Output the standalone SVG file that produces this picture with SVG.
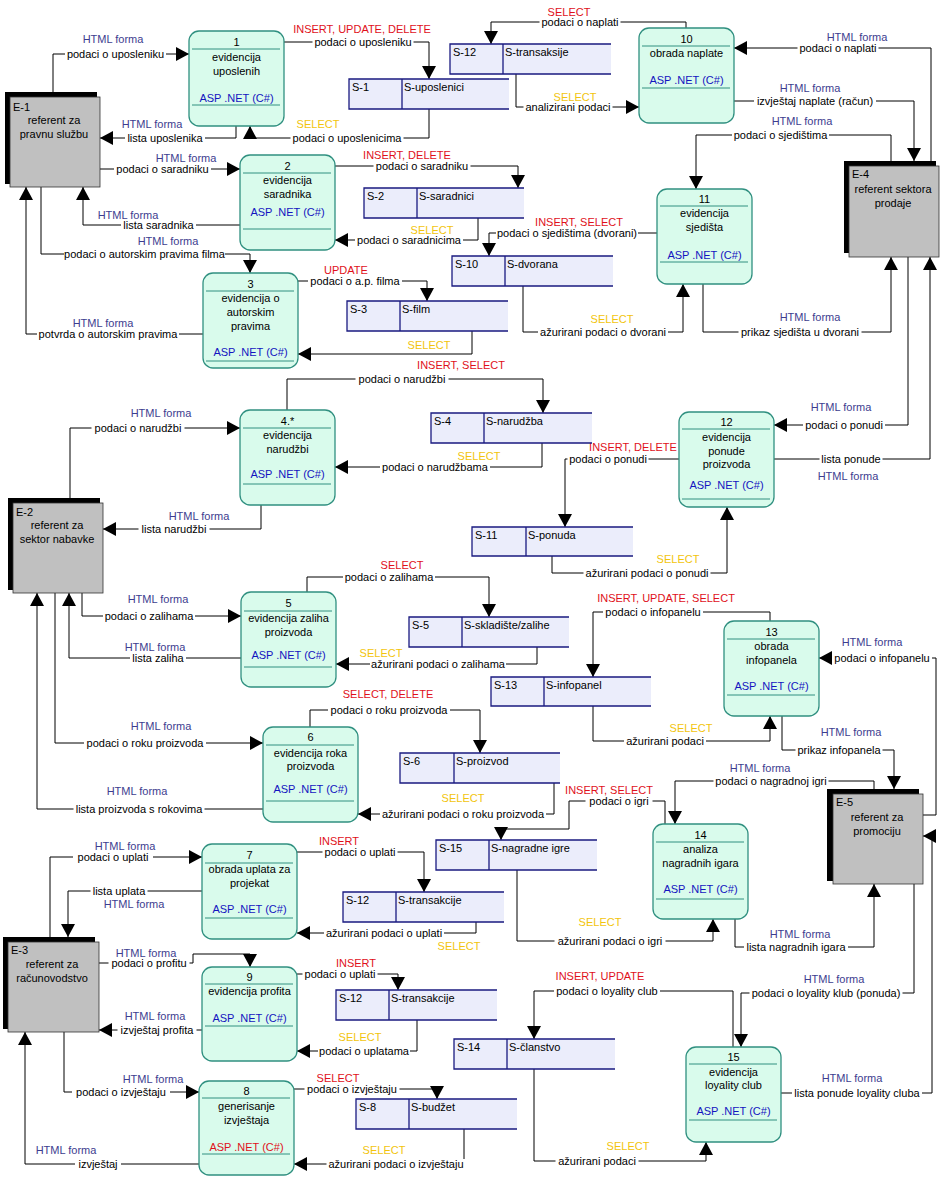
<svg xmlns="http://www.w3.org/2000/svg" width="942" height="1202" viewBox="0 0 942 1202">
<defs>
  <marker id="ah" markerUnits="userSpaceOnUse" markerWidth="14" markerHeight="15" refX="13" refY="7" orient="auto" overflow="visible">
    <path d="M0,0 L13,7 L0,14 Z" fill="#000"/>
  </marker>
</defs>
<style>
  text { font-family: "Liberation Sans", Arial, sans-serif; font-size: 11px; fill: #000; }
  .c { text-anchor: middle; }
  .p rect { fill: #d9fbec; stroke: #309080; stroke-width: 1.3; }
  .p line { stroke: #309080; stroke-width: 1; }
  .asp { fill: #1414c0; }
  .aspr { fill: #e0101a; }
  .s rect { fill: #ebedfb; stroke: none; }
  .s path { fill: none; stroke: #1a1a80; stroke-width: 1.3; }
  .e .sh { fill: #000; }
  .e .bx { fill: #c0c0c0; stroke: #333; stroke-width: 0.8; }
  #conn path { fill: none; stroke: #000; stroke-width: 1; }
  #conn path.a { marker-end: url(#ah); }
  #gaps rect { fill: #fff; }
  .lb { text-anchor: middle; }
  .h { text-anchor: middle; fill: #3d3d8f; }
  .r { text-anchor: middle; fill: #e0101a; }
  .y { text-anchor: middle; fill: #f2c40c; }
</style>
<rect x="0" y="0" width="942" height="1202" fill="#fff"/>

<!-- data flows -->
<g id="conn">
  <path class="a" d="M53,92 V54 H189"/>
  <path class="a" d="M236,126 V138 H100"/>
  <path class="a" d="M284,42 H429 V79"/>
  <path class="a" d="M429,109 V138 H250 V126"/>
  <path class="a" d="M100,169 H240"/>
  <path class="a" d="M240,225 H83 V187"/>
  <path class="a" d="M41,187 V254 H250 V273"/>
  <path class="a" d="M203,334 H26 V187"/>
  <path class="a" d="M335,166 H518 V188"/>
  <path class="a" d="M478,218 V240 H335"/>
  <path class="a" d="M298,281 H427 V301"/>
  <path class="a" d="M472,331 V354 H298"/>
  <path class="a" d="M657,233 H489 V256"/>
  <path class="a" d="M523,286 V332 H683 V284"/>
  <path class="a" d="M891,161 V135 H696 V189"/>
  <path class="a" d="M703,284 V332 H891 V257"/>
  <path class="a" d="M931,161 V48 H734"/>
  <path class="a" d="M734,101 H914 V161"/>
  <path class="a" d="M516,74 V107 H639"/>
  <path class="a" d="M686,28 V22 H491 V44"/>
  <path class="a" d="M287,410 V379 H543 V413"/>
  <path class="a" d="M542,443 V467 H335"/>
  <path class="a" d="M70,498 V428 H240"/>
  <path class="a" d="M261,505 V529 H103"/>
  <path class="a" d="M679,459 H565 V527"/>
  <path class="a" d="M552,556 V573 H727 V507"/>
  <path class="a" d="M908,257 V425 H774"/>
  <path class="a" d="M774,459 H930 V257"/>
  <path class="a" d="M307,592 V577 H489 V617"/>
  <path class="a" d="M537,647 V664 H336"/>
  <path class="a" d="M82,593 V616 H241"/>
  <path class="a" d="M241,658 H69 V593"/>
  <path class="a" d="M310,727 V710 H480 V753"/>
  <path class="a" d="M554,783 V814 H358"/>
  <path class="a" d="M55,593 V743 H263"/>
  <path class="a" d="M263,809 H37 V593"/>
  <path class="a" d="M770,621 V612 H593 V677"/>
  <path class="a" d="M593,706 V741 H770 V716"/>
  <path class="a" d="M923,815 H936 V658 H819"/>
  <path class="a" d="M782,716 V750 H894 V789"/>
  <path class="a" d="M874,789 V781 H675 V824"/>
  <path class="a" d="M665,824 V801 H569 V829 H501 V840"/>
  <path class="a" d="M517,870 V941 H713 V919"/>
  <path class="a" d="M735,919 V947 H874 V884"/>
  <path class="a" d="M914,884 V993 H741 V1047"/>
  <path class="a" d="M781,1093 H932 V836 H923"/>
  <path class="a" d="M733,1047 V991 H534 V1039"/>
  <path class="a" d="M534,1069 V1161 H706 V1142"/>
  <path class="a" d="M50,937 V857 H202"/>
  <path class="a" d="M202,891 H68 V937"/>
  <path class="a" d="M297,852 H424 V892"/>
  <path class="a" d="M476,922 V933 H297"/>
  <path class="a" d="M99,963 H193 V954 H250 V967"/>
  <path class="a" d="M202,1030 H99"/>
  <path class="a" d="M297,974 H398 V990"/>
  <path class="a" d="M417,1020 V1051 H297"/>
  <path class="a" d="M64,1032 V1092 H199"/>
  <path class="a" d="M199,1164 H25 V1032"/>
  <path class="a" d="M294,1089 H437 V1099"/>
  <path class="a" d="M464,1129 V1164 H294"/>
</g>

<!-- white breaks in the flow lines under their names -->
<g id="gaps">
  <rect x="65" y="49" width="101" height="11"/>
  <rect x="125" y="133" width="80" height="11"/>
  <rect x="312.5" y="37" width="101" height="11"/>
  <rect x="290.5" y="133" width="113" height="11"/>
  <rect x="114" y="164" width="97" height="11"/>
  <rect x="121" y="220" width="75" height="11"/>
  <rect x="64" y="249" width="161" height="11"/>
  <rect x="37" y="329" width="142" height="11"/>
  <rect x="373.5" y="161" width="97" height="11"/>
  <rect x="355" y="235" width="108" height="11"/>
  <rect x="308" y="276" width="94" height="11"/>
  <rect x="496" y="228" width="142" height="11"/>
  <rect x="538" y="327" width="130" height="11"/>
  <rect x="732" y="130" width="97" height="11"/>
  <rect x="738.5" y="327" width="123" height="11"/>
  <rect x="797.5" y="43" width="81" height="11"/>
  <rect x="754" y="96" width="122" height="11"/>
  <rect x="523.5" y="102" width="89" height="11"/>
  <rect x="539.5" y="17" width="81" height="11"/>
  <rect x="355.5" y="374" width="93" height="11"/>
  <rect x="380" y="462" width="110" height="11"/>
  <rect x="91.5" y="423" width="93" height="11"/>
  <rect x="138.5" y="524" width="71" height="11"/>
  <rect x="567.5" y="454" width="81" height="11"/>
  <rect x="583.5" y="568" width="127" height="11"/>
  <rect x="803" y="420" width="82" height="11"/>
  <rect x="819.5" y="454" width="63" height="11"/>
  <rect x="343" y="572" width="92" height="11"/>
  <rect x="370" y="659" width="136" height="11"/>
  <rect x="103" y="611" width="92" height="11"/>
  <rect x="130" y="653" width="56" height="11"/>
  <rect x="328" y="705" width="122" height="11"/>
  <rect x="380" y="809" width="166" height="11"/>
  <rect x="84" y="738" width="122" height="11"/>
  <rect x="73.5" y="804" width="131" height="11"/>
  <rect x="603" y="607" width="100" height="11"/>
  <rect x="624" y="736" width="82" height="11"/>
  <rect x="832" y="653" width="100" height="11"/>
  <rect x="795.5" y="745" width="87" height="11"/>
  <rect x="713.5" y="776" width="115" height="11"/>
  <rect x="585.5" y="796" width="67" height="11"/>
  <rect x="554.5" y="936" width="111" height="11"/>
  <rect x="744" y="942" width="104" height="11"/>
  <rect x="749.5" y="988" width="153" height="11"/>
  <rect x="792" y="1088" width="130" height="11"/>
  <rect x="554" y="986" width="106" height="11"/>
  <rect x="555.5" y="1156" width="83" height="11"/>
  <rect x="73" y="852" width="80" height="11"/>
  <rect x="90.5" y="886" width="57" height="11"/>
  <rect x="322.5" y="847" width="75" height="11"/>
  <rect x="324" y="928" width="120" height="11"/>
  <rect x="108.5" y="958" width="81" height="11"/>
  <rect x="117.5" y="1025" width="79" height="11"/>
  <rect x="302.5" y="969" width="75" height="11"/>
  <rect x="318" y="1046" width="92" height="11"/>
  <rect x="72" y="1087" width="98" height="11"/>
  <rect x="75" y="1159" width="46" height="11"/>
  <rect x="304.5" y="1084" width="95" height="11"/>
  <rect x="326.5" y="1159" width="139" height="11"/>
</g>

<!-- flow labels -->
<g id="labels">
  <text class="h" x="113" y="43">HTML forma</text>
  <text class="lb" x="115.5" y="58">podaci o uposleniku</text>
  <text class="h" x="152" y="128">HTML forma</text>
  <text class="lb" x="165" y="142">lista uposlenika</text>
  <text class="r" x="362" y="33">INSERT, UPDATE, DELETE</text>
  <text class="lb" x="363" y="46">podaci o uposleniku</text>
  <text class="y" x="318" y="128">SELECT</text>
  <text class="lb" x="347" y="142">podaci o uposlenicima</text>
  <text class="h" x="186" y="162">HTML forma</text>
  <text class="lb" x="162.5" y="173">podaci o saradniku</text>
  <text class="h" x="128" y="219">HTML forma</text>
  <text class="lb" x="158.5" y="229">lista saradnika</text>
  <text class="h" x="168" y="245">HTML forma</text>
  <text class="lb" x="144.5" y="258">podaci o autorskim pravima filma</text>
  <text class="h" x="103" y="327">HTML forma</text>
  <text class="lb" x="108" y="338">potvrda o autorskim pravima</text>
  <text class="r" x="407" y="159">INSERT, DELETE</text>
  <text class="lb" x="422" y="170">podaci o saradniku</text>
  <text class="y" x="432" y="234">SELECT</text>
  <text class="lb" x="409" y="244">podaci o saradnicima</text>
  <text class="r" x="346" y="274">UPDATE</text>
  <text class="lb" x="355" y="285">podaci o a.p. filma</text>
  <text class="y" x="429" y="349">SELECT</text>
  <text class="r" x="579" y="226">INSERT, SELECT</text>
  <text class="lb" x="567" y="237">podaci o sjedištima (dvorani)</text>
  <text class="y" x="612" y="323">SELECT</text>
  <text class="lb" x="603" y="336">ažurirani podaci o dvorani</text>
  <text class="h" x="802" y="125">HTML forma</text>
  <text class="lb" x="780.5" y="139">podaci o sjedištima</text>
  <text class="h" x="810" y="321">HTML forma</text>
  <text class="lb" x="800" y="336">prikaz sjedišta u dvorani</text>
  <text class="h" x="857" y="41">HTML forma</text>
  <text class="lb" x="838" y="52">podaci o naplati</text>
  <text class="h" x="810" y="92">HTML forma</text>
  <text class="lb" x="815" y="105">izvještaj naplate (račun)</text>
  <text class="y" x="575" y="101">SELECT</text>
  <text class="lb" x="568" y="111">analizirani podaci</text>
  <text class="r" x="569" y="16">SELECT</text>
  <text class="lb" x="580" y="26">podaci o naplati</text>
  <text class="r" x="461" y="369">INSERT, SELECT</text>
  <text class="lb" x="402" y="383">podaci o narudžbi</text>
  <text class="y" x="479" y="460">SELECT</text>
  <text class="lb" x="435" y="471">podaci o narudžbama</text>
  <text class="h" x="161" y="417">HTML forma</text>
  <text class="lb" x="138" y="432">podaci o narudžbi</text>
  <text class="h" x="199" y="520">HTML forma</text>
  <text class="lb" x="174" y="533">lista narudžbi</text>
  <text class="r" x="633" y="451">INSERT, DELETE</text>
  <text class="lb" x="608" y="463">podaci o ponudi</text>
  <text class="y" x="678" y="563">SELECT</text>
  <text class="lb" x="647" y="577">ažurirani podaci o ponudi</text>
  <text class="h" x="841" y="411">HTML forma</text>
  <text class="lb" x="844" y="429">podaci o ponudi</text>
  <text class="lb" x="851" y="463">lista ponude</text>
  <text class="h" x="848" y="480">HTML forma</text>
  <text class="r" x="402" y="569">SELECT</text>
  <text class="lb" x="389" y="581">podaci o zalihama</text>
  <text class="y" x="381" y="657">SELECT</text>
  <text class="lb" x="438" y="668">ažurirani podaci o zalihama</text>
  <text class="h" x="158" y="603">HTML forma</text>
  <text class="lb" x="149" y="620">podaci o zalihama</text>
  <text class="h" x="155" y="651">HTML forma</text>
  <text class="lb" x="158" y="662">lista zaliha</text>
  <text class="r" x="388" y="698">SELECT, DELETE</text>
  <text class="lb" x="389" y="714">podaci o roku proizvoda</text>
  <text class="y" x="463" y="802">SELECT</text>
  <text class="lb" x="463" y="818">ažurirani podaci o roku proizvoda</text>
  <text class="h" x="161" y="730">HTML forma</text>
  <text class="lb" x="145" y="747">podaci o roku proizvoda</text>
  <text class="h" x="137" y="795">HTML forma</text>
  <text class="lb" x="139" y="813">lista proizvoda s rokovima</text>
  <text class="r" x="666" y="602">INSERT, UPDATE, SELECT</text>
  <text class="lb" x="653" y="616">podaci o infopanelu</text>
  <text class="y" x="691" y="732">SELECT</text>
  <text class="lb" x="665" y="745">ažurirani podaci</text>
  <text class="h" x="872" y="646">HTML forma</text>
  <text class="lb" x="882" y="662">podaci o infopanelu</text>
  <text class="h" x="851" y="736">HTML forma</text>
  <text class="lb" x="839" y="754">prikaz infopanela</text>
  <text class="h" x="760" y="772">HTML forma</text>
  <text class="lb" x="771" y="785">podaci o nagradnoj igri</text>
  <text class="r" x="609" y="794">INSERT, SELECT</text>
  <text class="lb" x="619" y="805">podaci o igri</text>
  <text class="y" x="600" y="926">SELECT</text>
  <text class="lb" x="610" y="945">ažurirani podaci o igri</text>
  <text class="h" x="800" y="938">HTML forma</text>
  <text class="lb" x="796" y="951">lista nagradnih igara</text>
  <text class="h" x="834" y="983">HTML forma</text>
  <text class="lb" x="826" y="997">podaci o loyality klub (ponuda)</text>
  <text class="h" x="852" y="1082">HTML forma</text>
  <text class="lb" x="857" y="1097">lista ponude loyality cluba</text>
  <text class="r" x="600" y="980">INSERT, UPDATE</text>
  <text class="lb" x="607" y="995">podaci o loyality club</text>
  <text class="y" x="628" y="1150">SELECT</text>
  <text class="lb" x="597" y="1165">ažurirani podaci</text>
  <text class="h" x="125" y="850">HTML forma</text>
  <text class="lb" x="113" y="861">podaci o uplati</text>
  <text class="lb" x="119" y="895">lista uplata</text>
  <text class="h" x="134" y="908">HTML forma</text>
  <text class="r" x="339" y="845">INSERT</text>
  <text class="lb" x="360" y="856">podaci o uplati</text>
  <text class="y" x="459" y="950">SELECT</text>
  <text class="lb" x="384" y="937">ažurirani podaci o uplati</text>
  <text class="h" x="146" y="957">HTML forma</text>
  <text class="lb" x="149" y="967">podaci o profitu</text>
  <text class="h" x="155" y="1020">HTML forma</text>
  <text class="lb" x="157" y="1034">izvještaj profita</text>
  <text class="r" x="356" y="967">INSERT</text>
  <text class="lb" x="340" y="978">podaci o uplati</text>
  <text class="y" x="360" y="1041">SELECT</text>
  <text class="lb" x="364" y="1055">podaci o uplatama</text>
  <text class="h" x="153" y="1083">HTML forma</text>
  <text class="lb" x="121" y="1096">podaci o izvještaju</text>
  <text class="h" x="66" y="1154">HTML forma</text>
  <text class="lb" x="98" y="1168">izvještaj</text>
  <text class="r" x="338" y="1082">SELECT</text>
  <text class="lb" x="352" y="1093">podaci o izvještaju</text>
  <text class="y" x="384" y="1154">SELECT</text>
  <text class="lb" x="396" y="1168">ažurirani podaci o izvještaju</text>
</g>

<!-- external entities -->
<g id="e1" class="e">
  <rect class="sh" x="5" y="92" width="92" height="92"/>
  <rect class="bx" x="10" y="97" width="90" height="90"/>
  <text x="13" y="111">E-1</text>
  <text class="c" x="54" y="124">referent za</text>
  <text class="c" x="54" y="138">pravnu službu</text>
</g>
<g id="e2" class="e">
  <rect class="sh" x="8" y="498" width="92" height="92"/>
  <rect class="bx" x="13" y="503" width="90" height="90"/>
  <text x="16" y="516">E-2</text>
  <text class="c" x="57" y="529">referent za</text>
  <text class="c" x="57" y="543">sektor nabavke</text>
</g>
<g id="e3" class="e">
  <rect class="sh" x="3" y="937" width="92" height="92"/>
  <rect class="bx" x="8" y="942" width="91" height="90"/>
  <text x="11" y="954">E-3</text>
  <text class="c" x="52" y="968">referent za</text>
  <text class="c" x="52" y="982">računovodstvo</text>
</g>
<g id="e4" class="e">
  <rect class="sh" x="844" y="161" width="92" height="92"/>
  <rect class="bx" x="849" y="166" width="90" height="91"/>
  <text x="852" y="178">E-4</text>
  <text class="c" x="893" y="193">referent sektora</text>
  <text class="c" x="893" y="207">prodaje</text>
</g>
<g id="e5" class="e">
  <rect class="sh" x="827" y="789" width="92" height="92"/>
  <rect class="bx" x="833" y="794" width="90" height="90"/>
  <text x="836" y="806">E-5</text>
  <text class="c" x="877" y="821">referent za</text>
  <text class="c" x="877" y="835">promociju</text>
</g>

<!-- processes -->
<g id="p1" class="p">
  <rect x="189" y="31" width="95" height="95" rx="10"/>
  <line x1="192" y1="49" x2="280" y2="49"/><line x1="192" y1="105" x2="280" y2="105"/>
  <text class="c" x="236.5" y="46">1</text>
  <text class="c" x="236.5" y="61">evidencija</text>
  <text class="c" x="236.5" y="75">uposlenih</text>
  <text class="c asp" x="236.5" y="102">ASP .NET (C#)</text>
</g>
<g id="p2" class="p">
  <rect x="240" y="155" width="95" height="95" rx="10"/>
  <line x1="243" y1="173" x2="331" y2="173"/><line x1="243" y1="229" x2="331" y2="229"/>
  <text class="c" x="287.5" y="170">2</text>
  <text class="c" x="287.5" y="184">evidencija</text>
  <text class="c" x="287.5" y="198">saradnika</text>
  <text class="c asp" x="287.5" y="216">ASP .NET (C#)</text>
</g>
<g id="p3" class="p">
  <rect x="203" y="273" width="95" height="95" rx="10"/>
  <line x1="206" y1="291" x2="294" y2="291"/><line x1="206" y1="361" x2="294" y2="361"/>
  <text class="c" x="250.5" y="288">3</text>
  <text class="c" x="250.5" y="302">evidencija o</text>
  <text class="c" x="250.5" y="316">autorskim</text>
  <text class="c" x="250.5" y="330">pravima</text>
  <text class="c asp" x="250.5" y="356">ASP .NET (C#)</text>
</g>
<g id="p4" class="p">
  <rect x="240" y="410" width="95" height="95" rx="10"/>
  <line x1="243" y1="428" x2="331" y2="428"/><line x1="243" y1="484" x2="331" y2="484"/>
  <text class="c" x="287.5" y="425">4.*</text>
  <text class="c" x="287.5" y="439">evidencija</text>
  <text class="c" x="287.5" y="453">narudžbi</text>
  <text class="c asp" x="287.5" y="478">ASP .NET (C#)</text>
</g>
<g id="p5" class="p">
  <rect x="241" y="592" width="95" height="95" rx="10"/>
  <line x1="244" y1="611" x2="332" y2="611"/><line x1="244" y1="667" x2="332" y2="667"/>
  <text class="c" x="288.5" y="607">5</text>
  <text class="c" x="288.5" y="622">evidencija zaliha</text>
  <text class="c" x="288.5" y="636">proizvoda</text>
  <text class="c asp" x="288.5" y="659">ASP .NET (C#)</text>
</g>
<g id="p6" class="p">
  <rect x="263" y="727" width="95" height="95" rx="10"/>
  <line x1="266" y1="745" x2="354" y2="745"/><line x1="266" y1="801" x2="354" y2="801"/>
  <text class="c" x="310.5" y="741">6</text>
  <text class="c" x="310.5" y="757">evidencija roka</text>
  <text class="c" x="310.5" y="770">proizvoda</text>
  <text class="c asp" x="310.5" y="793">ASP .NET (C#)</text>
</g>
<g id="p7" class="p">
  <rect x="202" y="844" width="95" height="95" rx="10"/>
  <line x1="205" y1="863" x2="293" y2="863"/><line x1="205" y1="918" x2="293" y2="918"/>
  <text class="c" x="249.5" y="859">7</text>
  <text class="c" x="249.5" y="873">obrada uplata za</text>
  <text class="c" x="249.5" y="887">projekat</text>
  <text class="c asp" x="249.5" y="913">ASP .NET (C#)</text>
</g>
<g id="p9" class="p">
  <rect x="202" y="967" width="95" height="94" rx="10"/>
  <line x1="205" y1="984" x2="293" y2="984"/><line x1="205" y1="1026" x2="293" y2="1026"/>
  <text class="c" x="249.5" y="981">9</text>
  <text class="c" x="249.5" y="995">evidencija profita</text>
  <text class="c asp" x="249.5" y="1022">ASP .NET (C#)</text>
</g>
<g id="p8" class="p">
  <rect x="199" y="1081" width="95" height="94" rx="10"/>
  <line x1="202" y1="1098" x2="290" y2="1098"/><line x1="202" y1="1154" x2="290" y2="1154"/>
  <text class="c" x="246.5" y="1095">8</text>
  <text class="c" x="246.5" y="1110">generisanje</text>
  <text class="c" x="246.5" y="1124">izvještaja</text>
  <text class="c aspr" x="246.5" y="1151">ASP .NET (C#)</text>
</g>
<g id="p10" class="p">
  <rect x="639" y="28" width="95" height="95" rx="10"/>
  <line x1="642" y1="46" x2="730" y2="46"/><line x1="642" y1="88" x2="730" y2="88"/>
  <text class="c" x="686.5" y="43">10</text>
  <text class="c" x="686.5" y="57">obrada naplate</text>
  <text class="c asp" x="686.5" y="84">ASP .NET (C#)</text>
</g>
<g id="p11" class="p">
  <rect x="657" y="189" width="95" height="95" rx="10"/>
  <line x1="660" y1="206" x2="748" y2="206"/><line x1="660" y1="262" x2="748" y2="262"/>
  <text class="c" x="704.5" y="203">11</text>
  <text class="c" x="704.5" y="217">evidencija</text>
  <text class="c" x="704.5" y="231">sjedišta</text>
  <text class="c asp" x="704.5" y="259">ASP .NET (C#)</text>
</g>
<g id="p12" class="p">
  <rect x="679" y="412" width="95" height="95" rx="10"/>
  <line x1="682" y1="429" x2="770" y2="429"/><line x1="682" y1="499" x2="770" y2="499"/>
  <text class="c" x="726.5" y="426">12</text>
  <text class="c" x="726.5" y="441">evidencija</text>
  <text class="c" x="726.5" y="455">ponude</text>
  <text class="c" x="726.5" y="468">proizvoda</text>
  <text class="c asp" x="726.5" y="489">ASP .NET (C#)</text>
</g>
<g id="p13" class="p">
  <rect x="724" y="621" width="95" height="95" rx="10"/>
  <line x1="727" y1="639" x2="815" y2="639"/><line x1="727" y1="695" x2="815" y2="695"/>
  <text class="c" x="771.5" y="636">13</text>
  <text class="c" x="771.5" y="650">obrada</text>
  <text class="c" x="771.5" y="664">infopanela</text>
  <text class="c asp" x="771.5" y="690">ASP .NET (C#)</text>
</g>
<g id="p14" class="p">
  <rect x="653" y="824" width="95" height="95" rx="10"/>
  <line x1="656" y1="842" x2="744" y2="842"/><line x1="656" y1="899" x2="744" y2="899"/>
  <text class="c" x="700.5" y="839">14</text>
  <text class="c" x="700.5" y="853">analiza</text>
  <text class="c" x="700.5" y="867">nagradnih igara</text>
  <text class="c asp" x="700.5" y="893">ASP .NET (C#)</text>
</g>
<g id="p15" class="p">
  <rect x="686" y="1047" width="95" height="95" rx="10"/>
  <line x1="689" y1="1064" x2="777" y2="1064"/><line x1="689" y1="1120" x2="777" y2="1120"/>
  <text class="c" x="733.5" y="1061">15</text>
  <text class="c" x="733.5" y="1076">evidencija</text>
  <text class="c" x="733.5" y="1089">loyality club</text>
  <text class="c asp" x="733.5" y="1115">ASP .NET (C#)</text>
</g>

<!-- data stores -->
<g id="s1" class="s"><rect x="349" y="79" width="160" height="30"/><path d="M509,79 H349 V109 H509 M402,79 V109"/><text x="352" y="91">S-1</text><text x="404" y="91">S-uposlenici</text></g>
<g id="s12a" class="s"><rect x="450" y="44" width="161" height="30"/><path d="M611,44 H450 V74 H611 M503,44 V74"/><text x="453" y="56">S-12</text><text x="505" y="56">S-transaksije</text></g>
<g id="s2" class="s"><rect x="364" y="188" width="160" height="30"/><path d="M524,188 H364 V218 H524 M417,188 V218"/><text x="367" y="200">S-2</text><text x="419" y="200">S-saradnici</text></g>
<g id="s10" class="s"><rect x="452" y="256" width="161" height="30"/><path d="M613,256 H452 V286 H613 M505,256 V286"/><text x="455" y="268">S-10</text><text x="507" y="268">S-dvorana</text></g>
<g id="s3" class="s"><rect x="347" y="301" width="161" height="30"/><path d="M508,301 H347 V331 H508 M400,301 V331"/><text x="350" y="313">S-3</text><text x="402" y="313">S-film</text></g>
<g id="s4" class="s"><rect x="431" y="413" width="161" height="30"/><path d="M592,413 H431 V443 H592 M484,413 V443"/><text x="434" y="425">S-4</text><text x="486" y="425">S-narudžba</text></g>
<g id="s11" class="s"><rect x="472" y="527" width="161" height="29"/><path d="M633,527 H472 V556 H633 M526,527 V556"/><text x="475" y="539">S-11</text><text x="528" y="539">S-ponuda</text></g>
<g id="s5" class="s"><rect x="409" y="617" width="160" height="30"/><path d="M569,617 H409 V647 H569 M462,617 V647"/><text x="412" y="629">S-5</text><text x="464" y="629">S-skladište/zalihe</text></g>
<g id="s13" class="s"><rect x="491" y="677" width="160" height="29"/><path d="M651,677 H491 V706 H651 M544,677 V706"/><text x="494" y="689">S-13</text><text x="546" y="689">S-infopanel</text></g>
<g id="s6" class="s"><rect x="400" y="753" width="160" height="30"/><path d="M560,753 H400 V783 H560 M454,753 V783"/><text x="403" y="765">S-6</text><text x="456" y="765">S-proizvod</text></g>
<g id="s15" class="s"><rect x="436" y="840" width="161" height="30"/><path d="M597,840 H436 V870 H597 M489,840 V870"/><text x="439" y="852">S-15</text><text x="491" y="852">S-nagradne igre</text></g>
<g id="s12b" class="s"><rect x="343" y="892" width="161" height="30"/><path d="M504,892 H343 V922 H504 M396,892 V922"/><text x="346" y="904">S-12</text><text x="398" y="904">S-transakcije</text></g>
<g id="s12c" class="s"><rect x="336" y="990" width="161" height="30"/><path d="M497,990 H336 V1020 H497 M389,990 V1020"/><text x="339" y="1002">S-12</text><text x="391" y="1002">S-transakcije</text></g>
<g id="s14" class="s"><rect x="454" y="1039" width="161" height="30"/><path d="M615,1039 H454 V1069 H615 M507,1039 V1069"/><text x="457" y="1051">S-14</text><text x="509" y="1051">S-članstvo</text></g>
<g id="s8" class="s"><rect x="356" y="1099" width="161" height="30"/><path d="M517,1099 H356 V1129 H517 M409,1099 V1129"/><text x="359" y="1111">S-8</text><text x="411" y="1111">S-budžet</text></g>
</svg>
